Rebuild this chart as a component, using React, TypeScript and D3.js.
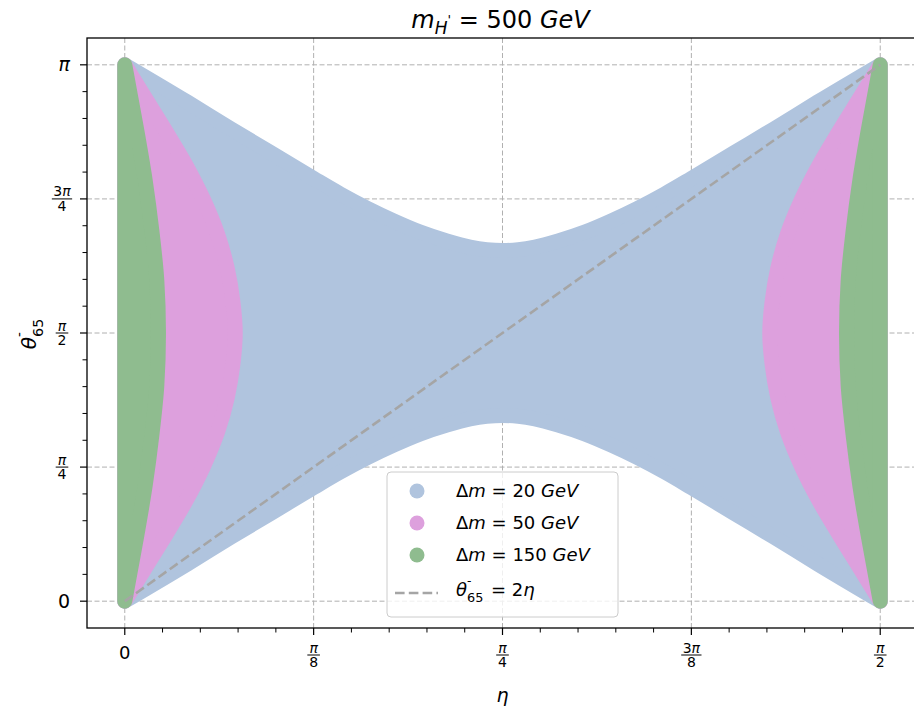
import React from "react";
import * as d3 from "d3";

const W = 914;
const H = 715;
const PI = Math.PI;

// Plot frame (pixels); the right spine sits just past the canvas edge
const frame = { left: 87, right: 918, top: 38, bottom: 628 };

// Δm = 20 GeV: upper edge of the allowed band for η in [0, π/4]
const blueEta = [0, 0.13, 0.22, 0.303, 0.3928, 0.4482, 0.5036, 0.5588, 0.6142, 0.6696, 0.718, 0.7527, PI / 4];
const blueTheta = [PI, 2.924, 2.768, 2.628, 2.476, 2.385, 2.302, 2.228, 2.162, 2.11, 2.074, 2.059, 2.054];

// Δm = 50 GeV: edge of the region next to η = 0, for θ from π down to π/2
const pinkTheta = [PI, 2.95, 2.75, 2.55, 2.35, 2.15, 1.95, 1.75, PI / 2];
const pinkEta = [0, 0.042, 0.086, 0.128, 0.164, 0.193, 0.213, 0.225, 0.2297];

// Δm = 150 GeV: edge of the region next to η = 0, for θ from π down to π/2
const greenTheta = [PI, 2.95, 2.756, 2.464, 2.172, 1.88, PI / 2];
const greenEta = [0, 0.0125, 0.0251, 0.0425, 0.0562, 0.0666, 0.0701];

const seriesNames = ["20", "50", "150"];
const seriesColors = ["#b0c4de", "#dda0dd", "#8fbc8f"];

// Tick positions and labels [numerator, denominator] (denominator empty for plain labels)
const xTickVals = [0, PI / 8, PI / 4, (3 * PI) / 8, PI / 2];
const xTickLabels: [string, string][] = [["0", ""], ["π", "8"], ["π", "4"], ["3π", "8"], ["π", "2"]];
const yTickVals = [0, PI / 4, PI / 2, (3 * PI) / 4, PI];
const yTickLabels: [string, string][] = [["0", ""], ["π", "4"], ["π", "2"], ["3π", "4"], ["π", ""]];

const FONT = "DejaVu Sans, Verdana, sans-serif";
const markerR = 7.5;
const refLineColor = "#a5a5a5";

const x = d3.scaleLinear().domain([-0.05 * (PI / 2), 1.05 * (PI / 2)]).range([frame.left, frame.right]);
const y = d3.scaleLinear().domain([-0.05 * PI, 1.05 * PI]).range([frame.bottom, frame.top]);

type P = [number, number];
const lineX = d3.line<P>().x((d) => x(d[0])).y((d) => y(d[1])).curve(d3.curveMonotoneX);
const lineY = d3.line<P>().x((d) => x(d[0])).y((d) => y(d[1])).curve(d3.curveMonotoneY);

function bluePath(): string {
  const n = blueEta.length;
  const top: P[] = [];
  for (let i = 0; i < n; i++) top.push([blueEta[i], blueTheta[i]]);
  for (let i = n - 2; i >= 0; i--) top.push([PI / 2 - blueEta[i], blueTheta[i]]);
  const bottom: P[] = top.map((p) => [p[0], PI - p[1]]).reverse() as P[];
  return (lineX(top) || "") + (lineX(bottom) || "").replace(/^M/, "L") + "Z";
}

function lensPaths(etas: number[], thetas: number[]): string[] {
  const n = etas.length;
  const left: P[] = [];
  for (let i = 0; i < n; i++) left.push([etas[i], thetas[i]]);
  for (let i = n - 2; i >= 0; i--) left.push([etas[i], PI - thetas[i]]);
  const right: P[] = left.map((p) => [PI / 2 - p[0], p[1]]);
  return [(lineY(left) || "") + "Z", (lineY(right) || "") + "Z"];
}

function Frac({ num, den, cx, barY, size }: { num: string; den: string; cx: number; barY: number; size: number }) {
  const w = num.length > 1 ? size * 1.45 : size * 0.9;
  return (
    <g fontFamily={FONT} fontSize={size} textAnchor="middle">
      <text x={cx} y={barY - 2.5}>
        {num.split("").map((c, i) => (
          <tspan key={i} fontStyle={c === "π" ? "italic" : "normal"}>{c}</tspan>
        ))}
      </text>
      <line x1={cx - w / 2} x2={cx + w / 2} y1={barY} y2={barY} stroke="#000" strokeWidth={1} />
      <text x={cx} y={barY + size * 0.88}>{den}</text>
    </g>
  );
}

// θ with a small bar as superscript and "65" as subscript, stacked
function ThetaLabel({ size }: { size: number }) {
  const s = size * 0.68;
  return (
    <>
      <tspan fontStyle="italic">θ</tspan>
      <tspan fontSize={s} dy={-size * 0.62}>-</tspan>
      <tspan fontSize={s * 1.05} dx={-s * 0.36} dy={size * 0.95}>65</tspan>
      <tspan dy={-size * 0.33}>{"\u200a"}</tspan>
    </>
  );
}

function offStep(v: number, step: number) {
  const r = v / step;
  return Math.abs(r - Math.round(r)) > 1e-6;
}

export default function App() {
  const blue = bluePath();
  const pink = lensPaths(pinkEta, pinkTheta);
  const green = lensPaths(greenEta, greenTheta);

  const xMinor = d3.range(1, 20).map((i) => (i * PI) / 40).filter((v) => offStep(v, PI / 8));
  const yMinor = d3.range(1, 20).map((i) => (i * PI) / 20).filter((v) => offStep(v, PI / 4));

  const gridStyle = { stroke: "#b0b0b0", strokeWidth: 1, strokeDasharray: "5 2.5" };
  const legendRows = [0, 1, 2];
  const lg = { x: 387, y: 472, w: 231, h: 145 };
  const rowY = [491, 523, 555, 593];

  return (
    <svg width={W} height={H} style={{ position: "absolute", left: 0, top: 0, background: "#fff" }} fontFamily={FONT}>
      <defs>
        <clipPath id="plotArea">
          <rect x={frame.left} y={frame.top} width={frame.right - frame.left} height={frame.bottom - frame.top} />
        </clipPath>
      </defs>

      {/* grid */}
      <g>
        {xTickVals.map((v, i) => (
          <line key={"gx" + i} x1={x(v)} x2={x(v)} y1={frame.top} y2={frame.bottom} {...gridStyle} />
        ))}
        {yTickVals.map((v, i) => (
          <line key={"gy" + i} x1={frame.left} x2={frame.right} y1={y(v)} y2={y(v)} {...gridStyle} />
        ))}
      </g>

      {/* allowed regions */}
      <g clipPath="url(#plotArea)">
        <path d={blue} fill={seriesColors[0]} stroke={seriesColors[0]} strokeWidth={markerR * 2} strokeLinejoin="round" />
        {pink.map((d, i) => (
          <path key={"p" + i} d={d} fill={seriesColors[1]} stroke={seriesColors[1]} strokeWidth={markerR * 2} strokeLinejoin="round" />
        ))}
        {green.map((d, i) => (
          <path key={"g" + i} d={d} fill={seriesColors[2]} stroke={seriesColors[2]} strokeWidth={markerR * 2} strokeLinejoin="round" />
        ))}
        <line x1={x(0)} y1={y(0)} x2={x(PI / 2)} y2={y(PI)} stroke={refLineColor} strokeWidth={2.6} strokeDasharray="9.6 4.2" />
      </g>

      {/* spines */}
      <rect x={frame.left} y={frame.top} width={frame.right - frame.left} height={frame.bottom - frame.top} fill="none" stroke="#000" strokeWidth={1.3} />

      {/* x ticks */}
      <g>
        {xTickVals.map((v, i) => (
          <line key={"xt" + i} x1={x(v)} x2={x(v)} y1={frame.bottom} y2={frame.bottom + 7} stroke="#000" strokeWidth={1.2} />
        ))}
        {xMinor.map((v, i) => (
          <line key={"xm" + i} x1={x(v)} x2={x(v)} y1={frame.bottom} y2={frame.bottom + 4.5} stroke="#000" strokeWidth={1} />
        ))}
        {xTickLabels.map((l, i) =>
          l[1] === "" ? (
            <text key={"xl" + i} x={x(xTickVals[i])} y={frame.bottom + 31} textAnchor="middle" fontSize={18}>{l[0]}</text>
          ) : (
            <Frac key={"xl" + i} num={l[0]} den={l[1]} cx={x(xTickVals[i])} barY={frame.bottom + 27} size={14} />
          )
        )}
      </g>

      {/* y ticks */}
      <g>
        {yTickVals.map((v, i) => (
          <line key={"yt" + i} x1={frame.left - 7} x2={frame.left} y1={y(v)} y2={y(v)} stroke="#000" strokeWidth={1.2} />
        ))}
        {yMinor.map((v, i) => (
          <line key={"ym" + i} x1={frame.left - 4.5} x2={frame.left} y1={y(v)} y2={y(v)} stroke="#000" strokeWidth={1} />
        ))}
        {yTickLabels.map((l, i) =>
          l[1] === "" ? (
            <text key={"yl" + i} x={70} y={y(yTickVals[i]) + 6.5} textAnchor="end" fontSize={19} fontStyle={l[0] === "π" ? "italic" : "normal"}>{l[0]}</text>
          ) : (
            <Frac key={"yl" + i} num={l[0]} den={l[1]} cx={62} barY={y(yTickVals[i])} size={14} />
          )
        )}
      </g>

      {/* axis labels and title */}
      <text x={(frame.left + frame.right) / 2} y={702} textAnchor="middle" fontSize={19} fontStyle="italic">η</text>
      <text transform={`translate(36,${y(PI / 2)}) rotate(-90)`} textAnchor="middle" fontSize={20}>
        <ThetaLabel size={20} />
      </text>
      <text x={(frame.left + frame.right) / 2 - 2} y={28} textAnchor="middle" fontSize={24}>
        <tspan fontStyle="italic">m</tspan>
        <tspan fontStyle="italic" fontSize={17} dy={6}>H</tspan>
        <tspan fontSize={13} dy={-10}>'</tspan>
        <tspan dy={4}> = 500 </tspan>
        <tspan fontStyle="italic">GeV</tspan>
      </text>

      {/* legend */}
      <g>
        <rect x={lg.x} y={lg.y} width={lg.w} height={lg.h} rx={4} fill="#fff" fillOpacity={0.8} stroke="#cccccc" strokeWidth={1} />
        {legendRows.map((i) => (
          <g key={"lr" + i}>
            <circle cx={417} cy={rowY[i]} r={markerR} fill={seriesColors[i]} />
            <text x={456} y={rowY[i] + 6} fontSize={18}>
              <tspan>Δ</tspan>
              <tspan fontStyle="italic">m</tspan>
              <tspan> = {seriesNames[i]} </tspan>
              <tspan fontStyle="italic">GeV</tspan>
            </text>
          </g>
        ))}
        <line x1={395} x2={438} y1={rowY[3]} y2={rowY[3]} stroke={refLineColor} strokeWidth={2.6} strokeDasharray="9.6 4.2" />
        <text x={456} y={rowY[3] + 3} fontSize={18}>
          <ThetaLabel size={18} />
          <tspan> = 2</tspan>
          <tspan fontStyle="italic">η</tspan>
        </text>
      </g>
    </svg>
  );
}
